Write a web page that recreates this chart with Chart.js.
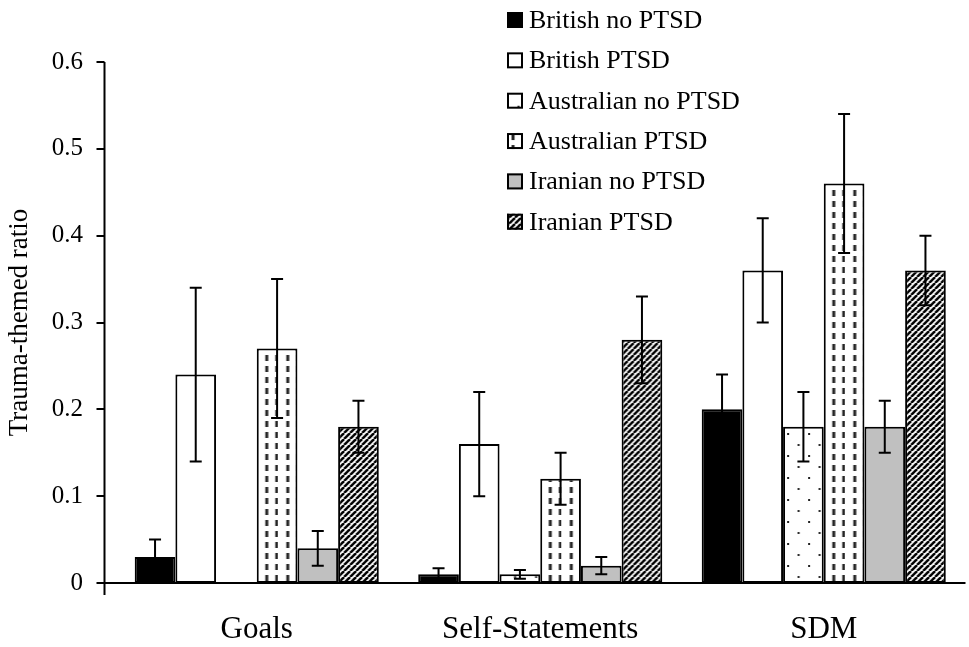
<!DOCTYPE html>
<html>
<head>
<meta charset="utf-8">
<script src="https://cdn.jsdelivr.net/npm/chart.js@4.4.1/dist/chart.umd.min.js"></script>
<style>
  html, body { margin: 0; padding: 0; background: #ffffff; }
  #wrap { position: relative; width: 969px; height: 647px; }
</style>
</head>
<body>
<div id="wrap"><canvas id="c"></canvas></div>
<script>
// ---- data ----
const categories = ['Goals', 'Self-Statements', 'SDM'];
const seriesNames = ['British no PTSD', 'British PTSD', 'Australian no PTSD', 'Australian PTSD', 'Iranian no PTSD', 'Iranian PTSD'];
const britishNoPtsd = [0.03, 0.01, 0.20];
const britishPtsd = [0.24, 0.16, 0.36];
const australianNoPtsd = [0, 0.01, 0.18];
const australianPtsd = [0.27, 0.12, 0.46];
const iranianNoPtsd = [0.04, 0.02, 0.18];
const iranianPtsd = [0.18, 0.28, 0.36];
const britishNoPtsdErr = [0.02, 0.007, 0.04];
const britishPtsdErr = [0.10, 0.06, 0.06];
const australianNoPtsdErr = [0, 0.005, 0.04];
const australianPtsdErr = [0.08, 0.03, 0.08];
const iranianNoPtsdErr = [0.02, 0.01, 0.03];
const iranianPtsdErr = [0.03, 0.05, 0.04];
const yTickValues = [0, 0.1, 0.2, 0.3, 0.4, 0.5, 0.6];
const yTitle = 'Trauma-themed ratio';

const SERIF = "'Liberation Serif', 'Times New Roman', serif";
const CAT_PCT = 0.861;

// ---- fill patterns ----
const patCtx = document.createElement('canvas').getContext('2d');
function makeTile(w, h, draw) {
  const cv = document.createElement('canvas');
  cv.width = w; cv.height = h;
  const g = cv.getContext('2d');
  g.fillStyle = '#ffffff';
  g.fillRect(0, 0, w, h);
  draw(g);
  return cv;
}
const dotTile = makeTile(21, 22, g => {
  g.fillStyle = '#222';
  g.fillRect(4, 4, 2, 2);
  g.fillRect(14.5, 15, 2, 2);
});
const dashTile = makeTile(21, 11, g => {
  g.fillStyle = '#262626';
  g.fillRect(8.5, 3, 3, 6);
  g.fillRect(18.5, 3, 2.5, 6);
});
const stripeTile = makeTile(6, 6, g => {
  g.strokeStyle = '#000';
  g.lineWidth = 2.5;
  for (let k = -1; k <= 2; k++) {
    g.beginPath();
    g.moveTo(k * 6 - 6, 6);
    g.lineTo(k * 6, 0);
    g.stroke();
  }
});
function pattern(tile, dx, dy) {
  const p = patCtx.createPattern(tile, 'repeat');
  if (dx !== undefined && p.setTransform) p.setTransform(new DOMMatrix([1, 0, 0, 1, dx, dy || 0]));
  return p;
}

const fills = ['#000000', '#ffffff', pattern(dotTile), pattern(dashTile), '#c0c0c0', pattern(stripeTile)];
const tiles = [null, null, dotTile, dashTile, null, stripeTile];
const seriesData = [britishNoPtsd, britishPtsd, australianNoPtsd, australianPtsd, iranianNoPtsd, iranianPtsd];
const seriesErr = [britishNoPtsdErr, britishPtsdErr, australianNoPtsdErr, australianPtsdErr, iranianNoPtsdErr, iranianPtsdErr];

function barFill(i) {
  if (!tiles[i]) return fills[i];
  return function (c) {
    const chart = c.chart;
    const xs = chart.scales && chart.scales.x;
    if (c.type !== 'data' || !xs || !chart.chartArea) return fills[i];
    const cw = (xs.right - xs.left) / categories.length;
    const bw = cw * CAT_PCT / seriesNames.length;
    const left = xs.getPixelForValue(c.dataIndex) - bw * seriesNames.length / 2 + i * bw;
    return pattern(tiles[i], left, chart.chartArea.bottom);
  };
}

const datasets = seriesNames.map((name, i) => ({
  label: name,
  data: seriesData[i],
  err: seriesErr[i],
  backgroundColor: barFill(i),
  borderColor: '#000000',
  borderWidth: 2,
  borderSkipped: false,
  categoryPercentage: CAT_PCT,
  barPercentage: 1.0
}));

// ---- plugins ----
const errorBars = {
  id: 'errorBars',
  afterDatasetsDraw(chart) {
    const ctx = chart.ctx;
    const ys = chart.scales.y;
    ctx.save();
    ctx.strokeStyle = '#000';
    ctx.lineWidth = 2;
    chart.data.datasets.forEach((ds, i) => {
      const meta = chart.getDatasetMeta(i);
      meta.data.forEach((bar, j) => {
        const v = ds.data[j], e = ds.err[j];
        if (v == null || !e) return;
        const x = bar.x;
        const yh = ys.getPixelForValue(v + e);
        const yl = ys.getPixelForValue(v - e);
        ctx.beginPath();
        ctx.moveTo(x, yh); ctx.lineTo(x, yl);
        ctx.moveTo(x - 6, yh); ctx.lineTo(x + 6, yh);
        ctx.moveTo(x - 6, yl); ctx.lineTo(x + 6, yl);
        ctx.stroke();
      });
    });
    ctx.restore();
  }
};

const axisLines = {
  id: 'axisLines',
  afterDraw(chart) {
    const ctx = chart.ctx;
    const ys = chart.scales.y;
    const ca = chart.chartArea;
    const ax = 104.5;
    const y0 = ys.getPixelForValue(0);
    const yTop = ys.getPixelForValue(0.6);
    ctx.save();
    ctx.strokeStyle = '#000';
    ctx.lineWidth = 2;
    ctx.beginPath();
    ctx.moveTo(ax, yTop); ctx.lineTo(ax, y0 + 12);
    yTickValues.forEach(v => {
      const y = Math.round(ys.getPixelForValue(v));
      ctx.moveTo(ax - 8, y); ctx.lineTo(ax, y);
    });
    ctx.moveTo(ax - 8, Math.round(y0)); ctx.lineTo(ca.right, Math.round(y0));
    ctx.stroke();
    ctx.restore();
  }
};

const customLegend = {
  id: 'customLegend',
  afterDraw(chart) {
    const ctx = chart.ctx;
    ctx.save();
    ctx.font = '26px ' + SERIF;
    ctx.textBaseline = 'middle';
    ctx.textAlign = 'left';
    chart.data.datasets.forEach((ds, i) => {
      const cy = 20 + i * 40.35;
      const bx = 507, bs = 16;
      ctx.fillStyle = tiles[i] ? pattern(tiles[i], bx - 4, cy - bs / 2 - 2) : fills[i];
      ctx.fillRect(bx, cy - bs / 2, bs, bs);
      ctx.strokeStyle = '#000';
      ctx.lineWidth = 2;
      ctx.strokeRect(bx + 1, cy - bs / 2 + 1, bs - 2, bs - 2);
      ctx.fillStyle = '#000';
      ctx.fillText(ds.label, 529, cy + 1);
    });
    ctx.restore();
  }
};

new Chart(document.getElementById('c'), {
  type: 'bar',
  data: { labels: categories, datasets },
  options: {
    responsive: true,
    maintainAspectRatio: false,
    animation: false,
    layout: { padding: { top: 62, right: 3.5, left: 0, bottom: 0 } },
    plugins: {
      legend: { display: false },
      tooltip: { enabled: false }
    },
    scales: {
      x: {
        grid: { display: false, drawTicks: false },
        border: { display: false },
        ticks: { color: '#000', font: { family: SERIF, size: 31 }, padding: 28, maxRotation: 0 },
        afterFit(s) { s.height = 64; }
      },
      y: {
        min: 0, max: 0.6,
        grid: { display: false, drawTicks: false },
        border: { display: false },
        ticks: {
          stepSize: 0.1,
          color: '#000',
          font: { family: SERIF, size: 25 },
          padding: 32,
          callback: v => (Math.abs(v) < 1e-9 ? '0' : (Math.round(v * 10) / 10).toFixed(1))
        },
        title: {
          display: true,
          text: yTitle,
          color: '#000',
          font: { family: SERIF, size: 27 },
          padding: { top: 4, bottom: 0 }
        },
        afterFit(s) { s.width = 115; }
      }
    }
  },
  plugins: [errorBars, axisLines, customLegend]
});
</script>
</body>
</html>
